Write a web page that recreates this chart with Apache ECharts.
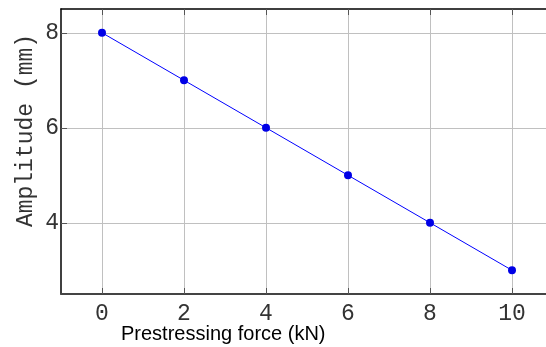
<!DOCTYPE html>
<html>
<head>
<meta charset="utf-8">
<script src="https://cdn.jsdelivr.net/npm/echarts@6/dist/echarts.min.js"></script>
<style>
  html, body { margin: 0; padding: 0; background: #fff; }
  #chart { width: 546px; height: 347px; }
</style>
</head>
<body>
<div id="chart"></div>
<script>
var forceKN = [0, 2, 4, 6, 8, 10];
var amplitudeMM = [8, 7, 6, 5, 4, 3];
var xTicks = [0, 2, 4, 6, 8, 10];
var yTicks = [4, 6, 8];

var myChart = echarts.init(document.getElementById('chart'));
var monoFont = '"Liberation Mono", "DejaVu Sans Mono", monospace';

var option = {
  animation: false,
  title: {
    text: 'Prestressing force (kN)',
    left: 121,
    top: 324,
    padding: 0,
    textStyle: {
      fontFamily: '"Liberation Sans", Arial, sans-serif',
      fontSize: 20,
      fontWeight: 'normal',
      color: '#000'
    }
  },
  grid: {
    left: 61,
    right: -7,
    top: 9,
    bottom: 53,
    containLabel: false,
    outerBoundsMode: 'none'
  },
  xAxis: [
    {
      type: 'value',
      min: -1,
      max: 11,
      axisLine: { show: true, onZero: false, lineStyle: { color: '#444', width: 2 } },
      axisTick: { show: true, inside: true, length: 6, customValues: xTicks, lineStyle: { color: '#555' } },
      axisLabel: {
        customValues: xTicks,
        margin: 8,
        fontFamily: monoFont,
        fontSize: 23,
        color: '#333'
      },
      splitLine: { show: true, lineStyle: { color: '#c0c0c0', width: 1 } }
    },
    {
      type: 'value',
      position: 'top',
      min: -1,
      max: 11,
      axisLine: { show: true, lineStyle: { color: '#000', width: 1.5 } },
      axisTick: { show: true, inside: true, length: 6, customValues: xTicks, lineStyle: { color: '#555' } },
      axisLabel: { show: false },
      splitLine: { show: false }
    }
  ],
  yAxis: {
    type: 'value',
    min: 2.5,
    max: 8.5,
    name: 'Amplitude (mm)',
    nameLocation: 'middle',
    nameGap: 24,
    nameMoveOverlap: false,
    nameTextStyle: {
      fontFamily: monoFont,
      fontSize: 23,
      color: '#333',
      padding: [0, 0, 0, 42]
    },
    axisLine: { show: true, onZero: false, lineStyle: { color: '#000', width: 1.5 } },
    axisTick: { show: true, inside: true, length: 6, customValues: yTicks, lineStyle: { color: '#555' } },
    axisLabel: {
      customValues: yTicks,
      margin: 2,
      fontFamily: monoFont,
      fontSize: 23,
      color: '#333'
    },
    splitLine: { show: true, lineStyle: { color: '#c0c0c0', width: 1 } }
  },
  series: [
    {
      type: 'line',
      data: forceKN.map(function (f, i) { return [f, amplitudeMM[i]]; }),
      symbol: 'circle',
      symbolSize: 8,
      lineStyle: { color: '#0000ff', width: 1 },
      itemStyle: { color: '#0000e6' }
    }
  ]
};

myChart.setOption(option);
</script>
</body>
</html>
